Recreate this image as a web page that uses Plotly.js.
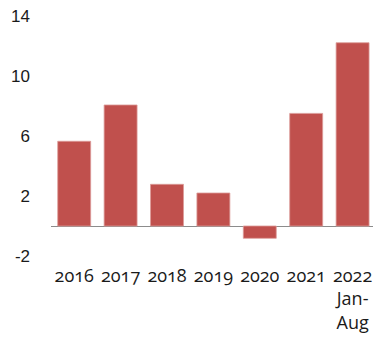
<!DOCTYPE html>
<html>
<head>
<meta charset="utf-8">
<script src="https://cdn.plot.ly/plotly-3.0.1.min.js"></script>
<style>html,body{margin:0;padding:0;background:#fff}#chart{width:373px;height:338px}
#chart svg .xtick text{font-feature-settings:"onum" 1;font-variant-numeric:oldstyle-nums}</style>
</head>
<body>
<div id="chart"></div>
<script>
const categories = ["2016", "2017", "2018", "2019", "2020", "2021", "2022"];
const tickLabels = ["2016", "2017", "2018", "2019", "2020", "2021", "2022<br>Jan-<br>Aug"];
const values = [5.65, 8.07, 2.78, 2.2, -0.82, 7.51, 12.22];
const yTicks = [-2, 2, 6, 10, 14];

const trace = {
  type: "bar",
  x: categories,
  y: values,
  marker: { color: "#C0504D", line: { color: "#DC9A98", width: 0.8 } },
  hoverinfo: "none"
};

const layout = {
  width: 373,
  height: 338,
  margin: { l: 50.5, r: 0, t: 0, b: 73 },
  paper_bgcolor: "#fff",
  plot_bgcolor: "#fff",
  bargap: 0.29,
  showlegend: false,
  font: { family: "Open Sans, sans-serif", size: 17, color: "#1a1a1a" },
  xaxis: {
    type: "category",
    range: [-0.5, 6.44],
    tickvals: categories,
    ticktext: tickLabels,
    tickfont: { family: "Open Sans, sans-serif", size: 18, color: "#1a1a1a" },
    showgrid: false,
    showline: false,
    zeroline: false,
    ticks: "",
    tickangle: 0,
    ticklabelstandoff: -2
  },
  yaxis: {
    range: [-2.6, 15.07],
    tickvals: yTicks,
    ticktext: yTicks.map(String),
    tickfont: { family: "Liberation Sans, Arial, sans-serif", size: 17, color: "#1a1a1a" },
    showgrid: false,
    showline: false,
    zeroline: true,
    zerolinecolor: "#8c8c8c",
    zerolinewidth: 1,
    ticks: "",
    ticklabelstandoff: 20
  }
};

Plotly.newPlot("chart", [trace], layout, { displayModeBar: false, staticPlot: true });
</script>
</body>
</html>
